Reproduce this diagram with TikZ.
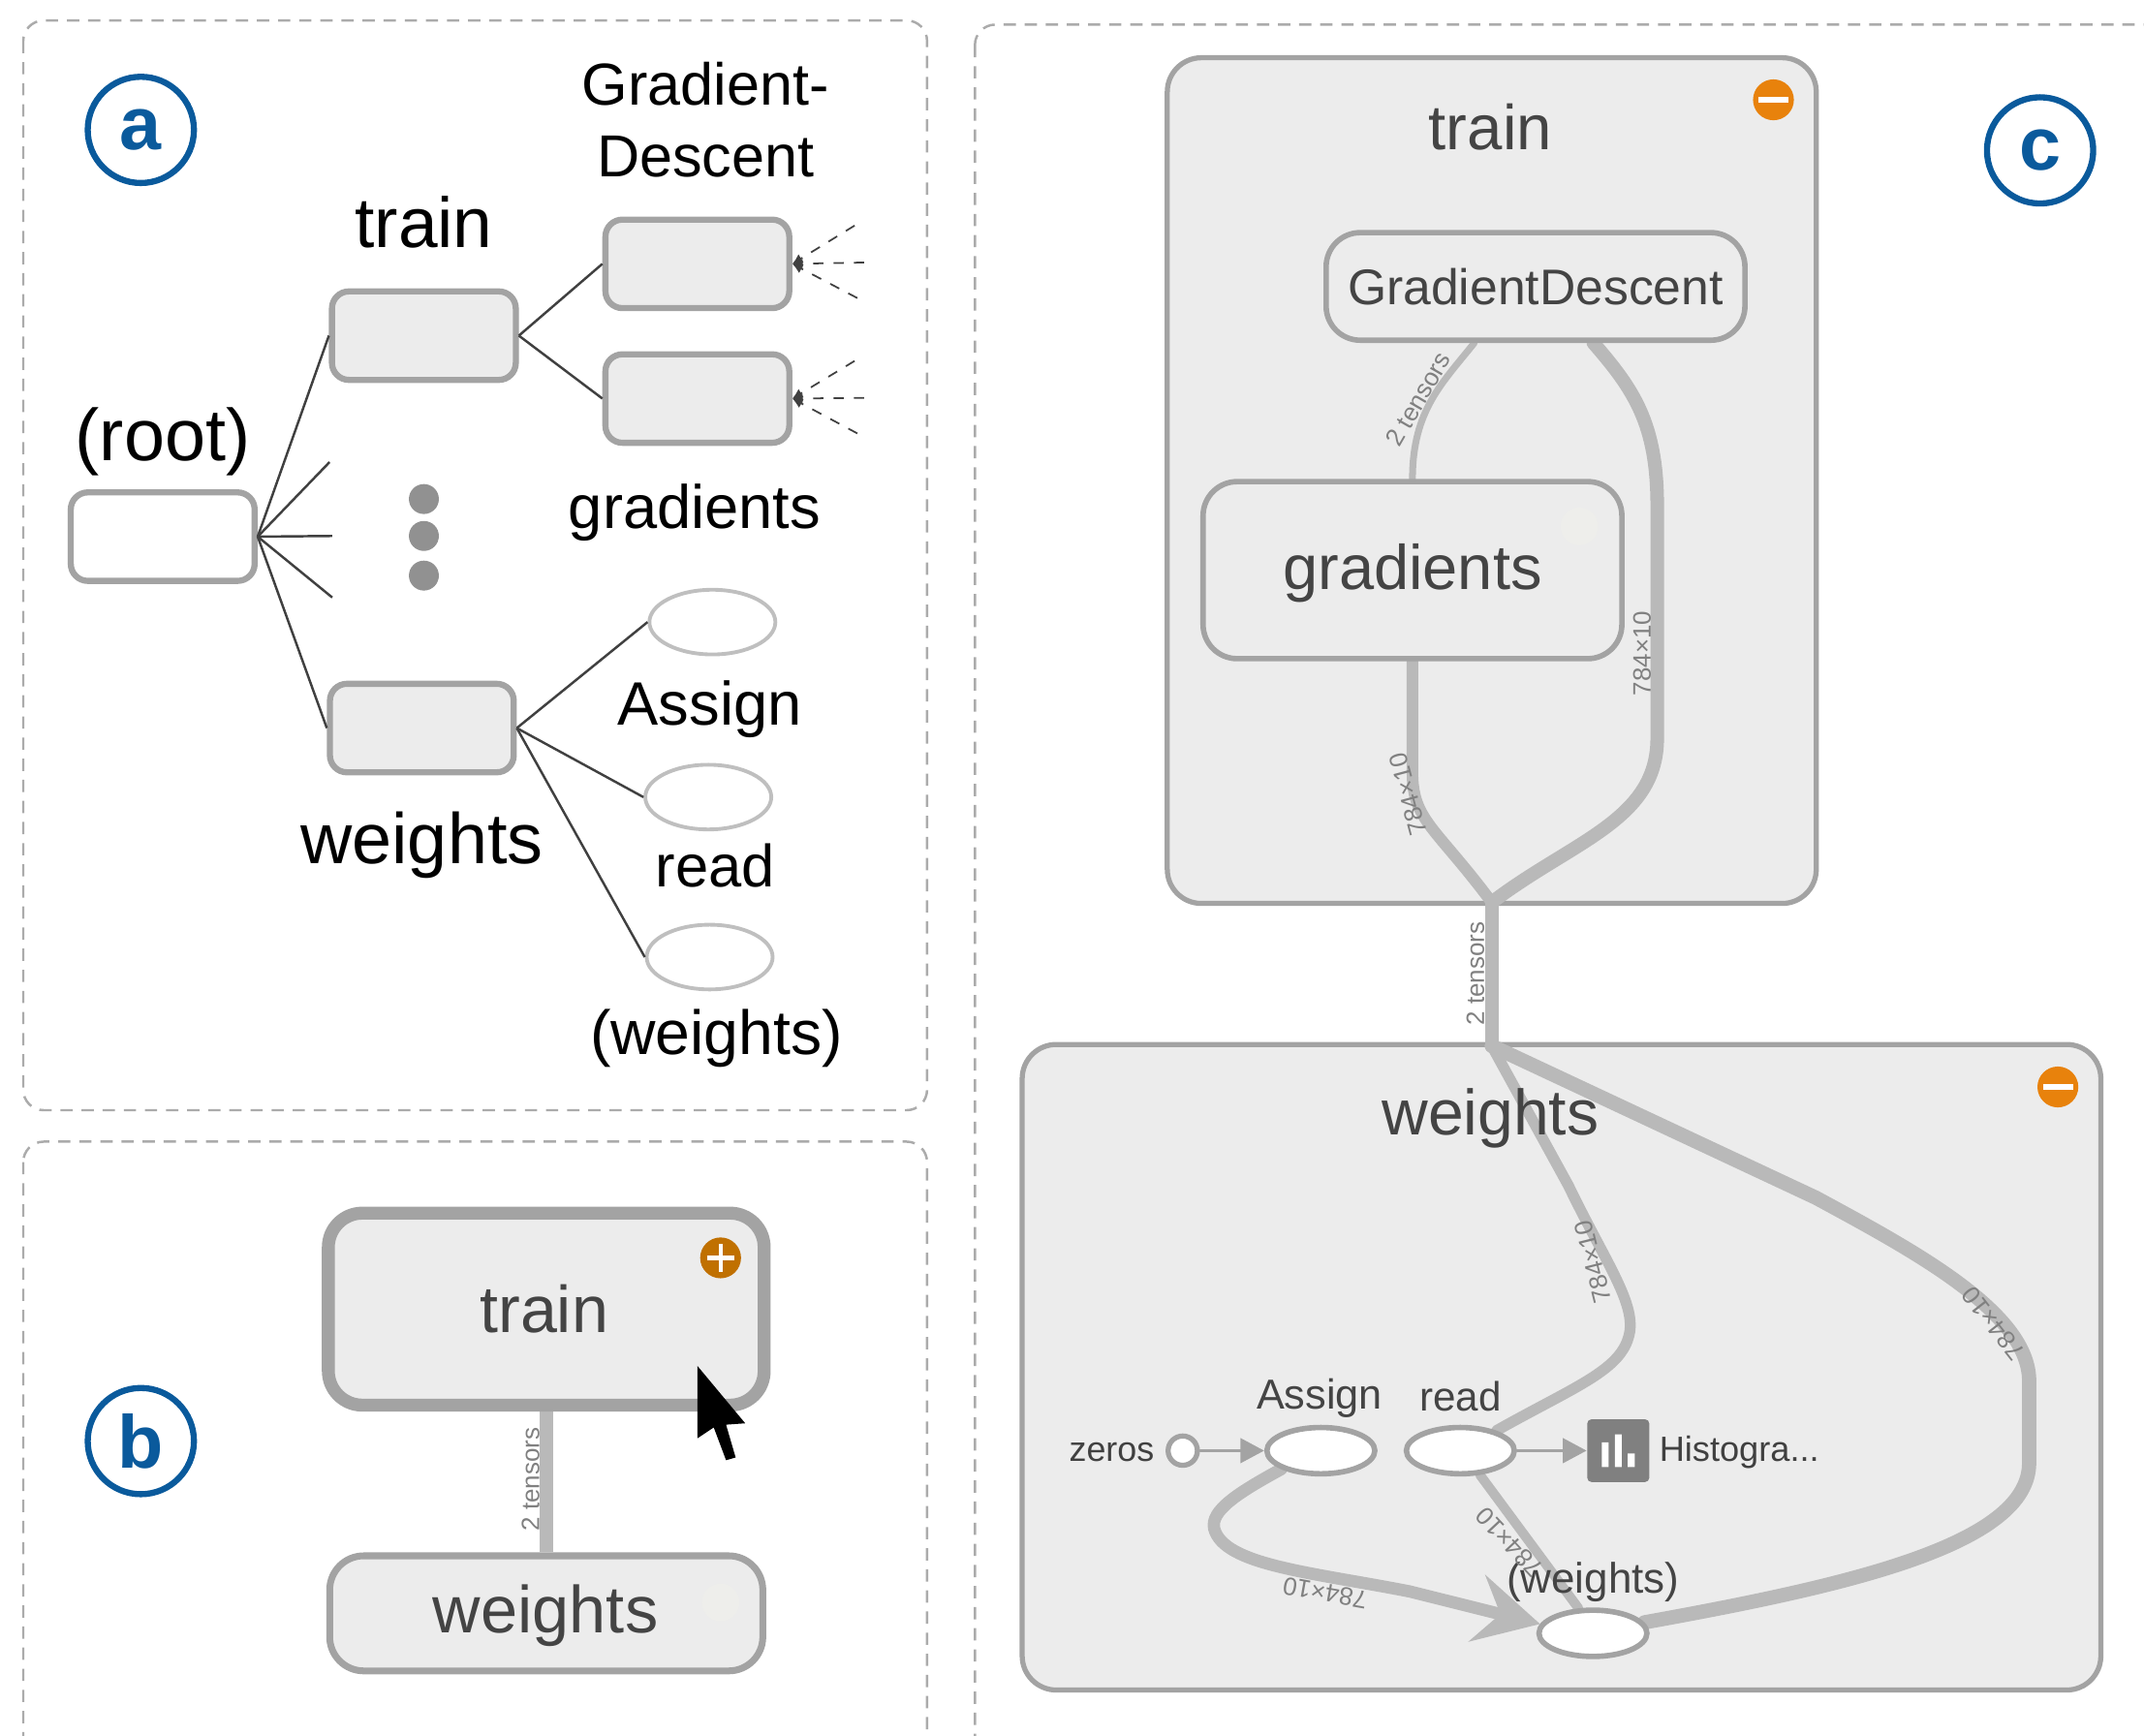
\documentclass[tikz,border=0pt]{standalone}
\usepackage{fontspec}
\setmainfont{Liberation Sans}
\usetikzlibrary{arrows.meta,backgrounds,shapes.geometric}
\definecolor{panelgray}{HTML}{ABABAB}
\definecolor{boxfill}{HTML}{ECECEC}
\definecolor{boxline}{HTML}{A3A3A3}
\definecolor{flowgray}{HTML}{B9B9B9}
\definecolor{inkgray}{HTML}{444444}
\definecolor{tagblue}{HTML}{0A5A9C}
\definecolor{plusorange}{HTML}{C07000}
\definecolor{minusorange}{HTML}{E8820C}
\definecolor{ghostgray}{HTML}{EEEEEB}
\newcommand{\fsz}[1]{\fontsize{#1}{#1}\selectfont}
\begin{document}
\begin{tikzpicture}[x=0.014114cm,y=-0.014114cm]

% Define block styles
\tikzstyle{panel} = [draw=panelgray, line width=0.7pt, dash pattern=on 3.6pt off 2.6pt, rounded corners=6pt]
\tikzstyle{tagring} = [circle, draw=tagblue, line width=1.8pt, text=tagblue, minimum size=31.2pt, inner sep=0pt, font=\fsz{22}\bfseries]
\tikzstyle{treebox} = [rectangle, draw=boxline, fill=boxfill, line width=1.8pt, rounded corners=5pt, minimum width=54pt, minimum height=26pt, inner sep=0pt]
\tikzstyle{treeleaf} = [ellipse, draw=boxline!70, line width=1.1pt, fill=white, minimum width=37pt, minimum height=19pt, inner sep=0pt]
\tikzstyle{treeline} = [draw=black!75, line width=0.7pt]
\tikzstyle{treedash} = [draw=black!75, line width=0.5pt, dashed, -{Latex[length=3pt,width=3pt]}]
\tikzstyle{treelabel} = [text=black, inner sep=0pt]
\tikzstyle{metabox} = [rectangle, draw=boxline, fill=boxfill, line width=1.5pt, rounded corners=10pt, inner sep=0pt, text=inkgray]
\tikzstyle{opnode} = [ellipse, draw=boxline, fill=white, line width=1.6pt, minimum width=31.7pt, minimum height=13.6pt, inner sep=0pt]
\tikzstyle{flow} = [draw=flowgray, line cap=round]
\tikzstyle{flowtag} = [text=black!50, inner sep=0pt, font=\fsz{7.4}]
\tikzstyle{opname} = [text=inkgray, inner sep=0pt]
\tikzstyle{badge} = [circle, minimum size=12pt, inner sep=0pt]
\tikzstyle{ghost} = [circle, fill=ghostgray, minimum size=11pt, inner sep=0pt]

\useasboundingbox (0,0) rectangle (1568,1269.7);

% panels
\draw[panel] (17,15) rectangle (678,812);
\draw[panel] (17,835) rectangle (678,1320);
\draw[panel] (713,18) rectangle (1620,1320);

\node [tagring] (taga) at (103,95) {a};
\node [tagring] (tagb) at (103,1054) {b};
\node [tagring] (tagc) at (1492,110) {c};

% hierarchy
\node [treebox,fill=white] (root) at (119,392.5) {};
\node [treebox] (atrain) at (310,245.5) {};
\node [treebox] (adesc) at (510,193) {};
\node [treebox] (agrad) at (510,291.5) {};
\node [treebox] (aweights) at (308.5,532.5) {};
\node [treeleaf] (aassign) at (521,455) {};
\node [treeleaf] (aread) at (518,583) {};
\node [treeleaf] (awgt) at (519,700) {};

\node [treelabel,font=\fsz{21.5},above of=root,node distance=28pt] (lroot) {(root)};
\node [treelabel,font=\fsz{20.8},above of=atrain,node distance=33.4pt] (ltrain) {train};
\node [treelabel,font=\fsz{21},below of=aweights,node distance=34.5pt] (lweights) {weights};
\node [treelabel,font=\fsz{17.4},align=center,above of=adesc,node distance=42.4pt,xshift=2.4pt,text depth=0pt] (ldesc) {Gradient-\\[3.4pt]Descent};
\node [treelabel,font=\fsz{18},below of=agrad,node distance=33.6pt,xshift=-0.8pt] (lgrad) {gradients};
\node [treelabel,font=\fsz{18},below of=aassign,node distance=25.7pt,xshift=-0.8pt] (lassign) {Assign};
\node [treelabel,font=\fsz{17.5},below of=aread,node distance=20.2pt,xshift=2pt] (lread) {read};
\node [treelabel,font=\fsz{18.3},below of=awgt,node distance=24pt,xshift=2pt] (lwgt) {(weights)};

\foreach \y/\n in {365/a,392/b,421/c}
  \node [circle,fill=black!43,minimum size=8.8pt,inner sep=0pt] (dot\n) at (310,\y) {};

\coordinate (stuba) at (241,338);
\coordinate (stubb) at (243,392);
\coordinate (stubc) at (243,437);
\draw[treeline] (root.east) -- (atrain.west);
\draw[treeline] (root.east) -- (stuba);
\draw[treeline] (root.east) -- (stubb);
\draw[treeline] (root.east) -- (stubc);
\draw[treeline] (root.east) -- (aweights.west);
\draw[treeline] (atrain.east) -- (adesc.west);
\draw[treeline] (atrain.east) -- (agrad.west);
\draw[treeline] (aweights.east) -- (aassign.west);
\draw[treeline] (aweights.east) -- (aread.west);
\draw[treeline] (aweights.east) -- (awgt.west);

\foreach \b/\y in {adesc/192,agrad/291} {
  \coordinate (\b u) at (625,\y-27);
  \coordinate (\b m) at (632,\y);
  \coordinate (\b d) at (627,\y+26);
  \draw[treedash] (\b u) -- (\b.east);
  \draw[treedash] (\b m) -- (\b.east);
  \draw[treedash] (\b d) -- (\b.east);
}

% collapsed graph
\node [metabox,line width=3.8pt,minimum width=128pt,minimum height=56.4pt] (btrain) at (399.5,957.5) {};
\node [metabox,line width=2pt,minimum width=127.2pt,minimum height=33.8pt] (bweights) at (399.5,1180) {};
\node [opname,font=\fsz{19.5}] (lbweights) at (399,1182) {weights};
\node [opname,font=\fsz{19.4}] (lbtrain) at (398,957) {train};
\node [badge,fill=plusorange] (bplus) at (527,920) {};
\draw[white,line width=1.3pt] (517,920) -- (537,920) (527,910) -- (527,930);
\node [ghost] (bghost) at (527,1172) {};
\begin{scope}[on background layer]
\draw[flow,line width=4pt,line cap=butt] (btrain.south) -- (bweights.north);
\end{scope}
\node [flowtag,rotate=90] (lbflow) at (388,1082) {2 tensors};
\fill[black] (510,999) -- (545,1041) -- (531,1042) -- (538,1066) -- (531,1068) -- (522,1044) -- (510,1052) -- cycle;

% expanded graph
\begin{scope}[on background layer]
\node [metabox,minimum width=190.6pt,minimum height=248.4pt] (ctrain) at (1091,351.5) {};
\node [metabox,minimum width=316.8pt,minimum height=189.6pt] (cweights) at (1142,1000) {};
\end{scope}
\node [opname,font=\fsz{18.6}] (lctrain) at (1090,93) {train};
\node [opname,font=\fsz{18.8}] (lcweights) at (1090,818) {weights};
\node [badge,fill=minusorange] (cminusa) at (1297,73) {};
\node [badge,fill=minusorange] (cminusb) at (1505,795) {};
\draw[white,line width=1.5pt] (1286,73) -- (1308,73) (1494,795) -- (1516,795);

\node [metabox,line width=1.6pt,minimum width=123pt,minimum height=31.6pt] (cdesc) at (1123,209.5) {};
\node [opname,font=\fsz{14.7}] (lcdesc) at (1123,210) {GradientDescent};
\node [metabox,line width=1.6pt,minimum width=123pt,minimum height=52pt] (cgrad) at (1033,417) {};
\node [opname,font=\fsz{18.5}] (lcgrad) at (1033,419) {gradients};
\node [ghost] (cghost) at (1155,385) {};

\node [circle,draw=boxline,fill=white,line width=1.5pt,minimum size=8.6pt,inner sep=0pt] (czeros) at (865,1061) {};
\node [opnode] (cassign) at (966,1061) {};
\node [opnode] (cread) at (1068,1061) {};
\node [opnode] (cwgt) at (1165,1194.6) {};
\node [rectangle,fill=black!50,rounded corners=1.2pt,minimum width=18.2pt,minimum height=18.4pt,inner sep=0pt] (chist) at (1183.5,1061) {};
\fill[white] (1171.5,1055) rectangle (1176.5,1073) (1181,1049) rectangle (1186,1073) (1190.5,1063) rectangle (1195.5,1073);

\coordinate (cjoin) at (1091,660);
\coordinate (csplit) at (1091,765);
\begin{scope}[on background layer]
\draw[flow,line width=2pt] ([xshift=-18pt]cdesc.south) .. controls (1055,280) and (1033,300) .. (cgrad.north);
\draw[flow,line width=3.4pt] (cgrad.south) -- (1033,565) .. controls (1033,600) and (1050,605) .. (cjoin);
\draw[flow,line width=4pt] ([xshift=17pt]cdesc.south) .. controls (1195,285) and (1212,310) .. (1212,370) -- (1212,540) .. controls (1212,600) and (1150,615) .. (cjoin);
\draw[flow,line width=4pt] (cjoin) -- (csplit);
\draw[flow,line width=3.2pt] (csplit) -- (1147,867) .. controls (1175,925) and (1198,955) .. (1191,978) .. controls (1184,1003) and (1150,1015) .. (cread.29);
\draw[flow,line width=4.2pt] (csplit) -- (1328,876) .. controls (1400,915) and (1484,960) .. (1484,1010) -- (1484,1070) .. controls (1484,1130) and (1350,1160) .. (cwgt.12);
\draw[flow,line width=3.6pt,-{Stealth[length=19pt,width=20pt,inset=7pt]}] (cassign.205) .. controls (905,1092) and (885,1105) .. (888,1118) .. controls (895,1145) and (960,1150) .. (1031,1164) -- (cwgt.170);
\draw[flow,line width=2.8pt] (cread.-51) -- (cwgt.120);
\draw[flow,line width=1pt,draw=boxline,-{Triangle[length=7pt,width=7.2pt]}] (czeros.east) -- (cassign.west);
\draw[flow,line width=1pt,draw=boxline,-{Triangle[length=7pt,width=7.2pt]}] (cread.east) -- (chist.west);
\end{scope}

\node [opname,font=\fsz{10.2},text=black!75] (lczeros) at (813,1062) {zeros};
\node [opname,font=\fsz{12.3}] (lcassign) at (965,1023) {Assign};
\node [opname,font=\fsz{12}] (lcread) at (1068,1021) {read};
\node [opname,font=\fsz{10.3},text=black!75] (lchist) at (1272,1062) {Histogra...};
\node [opname,font=\fsz{12.5}] (lcwgt) at (1165,1157) {(weights)};

\node [flowtag,rotate=60] (sa) at (1037,292) {2 tensors};
\node [flowtag,rotate=105] (sb) at (1030,581) {784×10};
\node [flowtag,rotate=90] (sc) at (1201,478) {784×10};
\node [flowtag,rotate=90] (sd) at (1079,712) {2 tensors};
\node [flowtag,rotate=104] (se) at (1165,923) {784×10};
\node [flowtag,rotate=128] (sf) at (1458,968) {784×10};
\node [flowtag,rotate=133] (sg) at (1104,1128) {784×10};
\node [flowtag,rotate=170] (sh) at (969,1165) {784×10};

\end{tikzpicture}
\end{document}
